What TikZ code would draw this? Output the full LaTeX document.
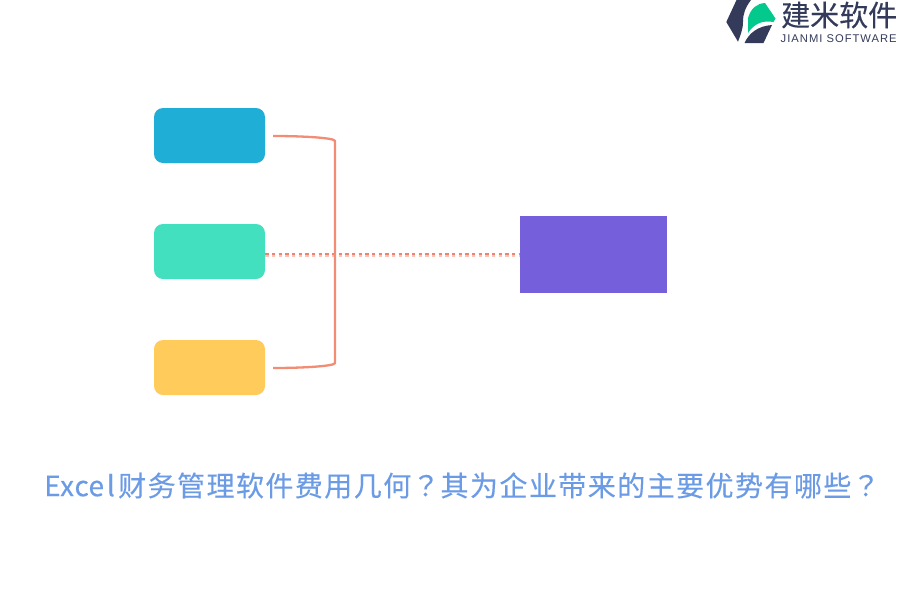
\documentclass[tikz,border=0pt]{standalone}
\usepackage{fontspec}
\usepackage{xcolor}
\usetikzlibrary{calc}
\newfontfamily\cjk{Noto Sans CJK SC}
\newfontfamily\cjktitle[LetterSpace=5.2,FakeBold=0.25]{Noto Sans CJK SC}
\newfontfamily\cjkmark[FakeBold=0.25]{Noto Sans CJK TC}
\newfontfamily\cjklogo[FakeBold=0.2]{Noto Sans CJK SC}
\newfontfamily\latinlogo[LetterSpace=9]{Liberation Sans}
\definecolor{boxblue}{HTML}{1FAED6}
\definecolor{boxgreen}{HTML}{43E0BF}
\definecolor{boxyellow}{HTML}{FFCC5C}
\definecolor{boxpurple}{HTML}{755FDB}
\definecolor{bracket}{HTML}{F38C75}
\definecolor{dashtop}{HTML}{EC8470}
\definecolor{dashlow}{HTML}{FBC4B6}
\definecolor{titleblue}{HTML}{6C9BE6}
\definecolor{logodark}{HTML}{343B5A}
\definecolor{logogreen}{HTML}{03C98C}
\newcommand{\lat}[1]{\makebox[14.6pt]{#1}}
\newcommand{\qmark}{\makebox[29.2pt]{\cjkmark ？}}
\tikzset{
  item/.style={rounded corners=9pt, minimum width=111pt, minimum height=55pt, inner sep=0pt, draw=none},
  target/.style={fill=boxpurple, minimum width=147pt, minimum height=77pt, inner sep=0pt, draw=none},
  brace/.style={draw=bracket, line width=2.3pt},
  dashA/.style={draw=dashtop, line width=1.2pt, dash pattern=on 3.4pt off 3.27pt},
  dashB/.style={draw=dashlow, line width=1.3pt, dash pattern=on 3.4pt off 3.27pt},
  lab/.style={text=titleblue, font=\cjktitle\fontsize{28}{32}\selectfont, inner sep=0pt},
  logoname/.style={text=logodark, font=\cjklogo\fontsize{29}{32}\selectfont, inner sep=0pt},
  logosub/.style={text=logodark, font=\latinlogo\fontsize{11.2}{13}\selectfont, inner sep=0pt}
}
\begin{document}
\begin{tikzpicture}[x=1pt, y=-1pt, line cap=butt, line join=round]
  \useasboundingbox (0,0) rectangle (900,600);
  \node[item, fill=boxblue] (costA) at (209.5,135.5) {};
  \node[item, fill=boxgreen] (costB) at (209.5,251.5) {};
  \node[item, fill=boxyellow] (costC) at (209.5,367.5) {};
  \node[target] (gain) at (593.5,254.5) {};
  \coordinate (braceT) at ($(costA.east)+(8,0.5)$);
  \coordinate (braceB) at ($(costC.east)+(8,0.5)$);
  \draw[dashB] ($(gain.west -| costB.east)+(0,1.4)$) -- ($(gain.west)+(0,1.4)$);
  \draw[dashA] ($(gain.west -| costB.east)+(0,-0.6)$) -- ($(gain.west)+(0,-0.6)$);
  \draw[brace] (braceT) .. controls (305,136) and (335,138) .. (335,141) -- (335,363) .. controls (335,366) and (305,368) .. (braceB);
  \node[lab, anchor=west] (title) at (45,485.5) {\lat{E}\lat{x}\lat{c}\lat{e}\lat{l}财务管理软件费用几何\qmark 其为企业带来的主要优势有哪些\qmark};
  \fill[logodark] (736.5,0) -- (751,0) .. controls (745,8) and (743,14) .. (743,22) .. controls (743,30) and (740,36) .. (738,41.7) -- (726.3,22) -- cycle;
  \fill[logogreen] (748,18) .. controls (751,8) and (757,3.5) .. (765,3) -- (775.5,18.5) -- (773.5,22) .. controls (762,20) and (754,24) .. (748,33) -- cycle;
  \fill[logodark] (744.5,43) .. controls (749,33) and (758,26) .. (772,25) -- (763.5,43) -- cycle;
  \node[logoname, anchor=west] (logoA) at (781,15) {建米软件};
  \node[logosub, anchor=west] (logoB) at (780.5,38.5) {JIANMI SOFTWARE};
\end{tikzpicture}
\end{document}
